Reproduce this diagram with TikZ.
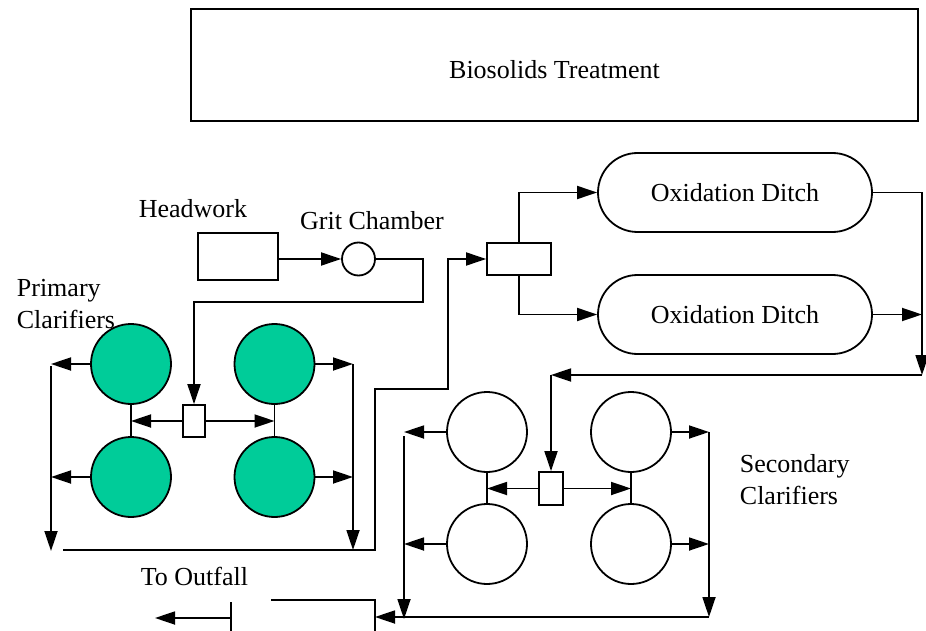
\documentclass[tikz,border=0pt]{standalone}
\usepackage{fontspec}
\setmainfont{Liberation Serif}
\usepackage{tikz}
\usetikzlibrary{arrows.meta,positioning}
\usetikzlibrary{calc,shapes.misc}
\definecolor{clarifiergreen}{RGB}{0,204,153}
\tikzset{
  flow/.style={-{Triangle[length=20pt,width=13pt]}},
  tank/.style={circle,draw,minimum size=80pt,inner sep=0pt},
  unit/.style={rectangle,draw,inner sep=0pt},
  ditch/.style={rounded rectangle,draw,minimum width=274pt,minimum height=79pt,inner sep=0pt},
  lbl/.style={inner sep=0pt}
}

\begin{document}
\begin{tikzpicture}[x=1pt,y=-1pt,line width=1.8pt,font=\fontsize{26pt}{32pt}\selectfont]
\useasboundingbox (0,0) rectangle (926,631);
\node[unit,minimum width=727pt,minimum height=112pt] (bio) at (554.5,65) {};
\node[lbl] (biolabel) at (554.5,70) {Biosolids Treatment};
\node[unit,minimum width=80pt,minimum height=47pt] (hw) at (238,256.5) {};
\node[lbl] (hwlabel) at (193,209) {Headwork};
\node[circle,draw,minimum size=33pt,inner sep=0pt] (grit) at (358.5,259) {};
\node[lbl] (gritlabel) at (372,221) {Grit Chamber};
\node[lbl,align=left,anchor=north west] (plabel) at (16,278) {Primary\\Clarifiers};
\node[unit,minimum width=22pt,minimum height=32pt] (pbox) at (194,421) {};
\node[tank,fill=clarifiergreen] (p1) at (131,364) {};
\node[tank,fill=clarifiergreen] (p2) at (274.5,364) {};
\node[tank,fill=clarifiergreen] (p3) at (131,477) {};
\node[tank,fill=clarifiergreen] (p4) at (274.5,477) {};
\node[unit,minimum width=64pt,minimum height=32pt] (split) at (519,259) {};
\node[ditch] (ditch1) at (735,192.5) {Oxidation Ditch};
\node[ditch] (ditch2) at (735,314.5) {Oxidation Ditch};
\node[unit,minimum width=24pt,minimum height=33pt] (sbox) at (551,488.5) {};
\node[tank] (s1) at (487,432) {};
\node[tank] (s2) at (631,432) {};
\node[tank] (s3) at (487,544) {};
\node[tank] (s4) at (631,544) {};
\node[lbl,align=left,anchor=north west] (slabel) at (739,454) {Secondary\\Clarifiers};
\node[lbl] (outlabel) at (194.5,576) {To Outfall};

\coordinate (pltop) at (51,366);
\coordinate (plbot) at (51,551);
\coordinate (prtop) at (353,364);
\coordinate (prbot) at (353,550);
\coordinate (dcol) at (922,375);
\coordinate (sltop) at (404,436);
\coordinate (slbot) at (404,619);
\coordinate (srtop) at (709,432);
\coordinate (srbot) at (709,617);
\coordinate (outin) at (375,617);

\draw[flow] (hw.east |- grit) -- (grit.west);
\draw[flow] (grit.east) -| (423,302) -| (pbox.north);
\draw[flow] (pbox.west) -- (pbox.west -| p1.south);
\draw[flow] (pbox.east) -- (pbox.east -| p2.south);
\draw (p1.south) -- (p3.north);
\draw (p2.south) -- (p4.north);
\draw[flow] (p1.west) -- (p1.west -| pltop);
\draw[flow] (p3.west) -- (p3.west -| pltop);
\draw[flow] (pltop) -- (plbot);
\draw[flow] (p2.east) -- (p2.east -| prtop);
\draw[flow] (p4.east) -- (p4.east -| prtop);
\draw[flow] (prtop) -- (prbot);
\draw[flow] (63,550) -- (375,550) |- (448,389) |- (split.west);

\draw[flow] (split.north) |- (ditch1.west);
\draw[flow] (split.south) |- (ditch2.west);
\draw[flow] (ditch1.east) -| (dcol);
\draw[flow] (ditch2.east) -- (ditch2.east -| dcol);
\draw[flow] (dcol) -- (dcol -| sbox.north);
\draw[flow] (dcol -| sbox.north) -- (sbox.north);

\draw[flow] (sbox.west) -- (sbox.west -| s1.south);
\draw[flow] (sbox.east) -- (sbox.east -| s2.south);
\draw (s1.south) -- (s3.north);
\draw (s2.south) -- (s4.north);
\draw[flow] (s1.west) -- (s1.west -| sltop);
\draw[flow] (s3.west) -- (s3.west -| sltop);
\draw[flow] (sltop) -- (slbot);
\draw[flow] (s2.east) -- (s2.east -| srtop);
\draw[flow] (s4.east) -- (s4.east -| srtop);
\draw[flow] (srtop) -- (srbot);
\draw[flow] (srbot) -- (outin);

\draw (271,600) -- (375,600) -- (375,631);
\draw (231,602) -- (231,631);
\draw[flow] (231,618) -- (155,618);
\end{tikzpicture}
\end{document}
